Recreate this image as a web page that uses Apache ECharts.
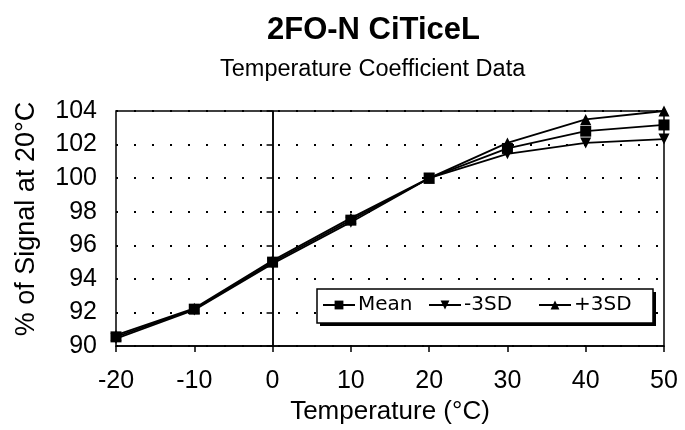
<!DOCTYPE html>
<html><head><meta charset="utf-8">
<script src="https://cdn.jsdelivr.net/npm/echarts@6/dist/echarts.min.js"></script>
<style>html,body{margin:0;padding:0;background:#fff}#c{width:685px;height:430px}</style>
</head><body><div id="c"></div>
<script>
const temps = [-20, -10, 0, 10, 20, 30, 40, 50];
const meanVals = [90.55, 92.2, 95.0, 97.5, 100, 101.77, 102.8, 103.17];
const minusVals = [90.45, 92.15, 94.9, 97.38, 100, 101.45, 102.1, 102.33];
const plusVals = [90.65, 92.25, 95.1, 97.62, 100, 102.1, 103.5, 104.0];
const seriesNames = ['Mean', '-3SD', '+3SD'];
const titleText = '2FO-N CiTiceL';
const subtitleText = 'Temperature Coefficient Data';
const xName = 'Temperature (°C)';
const yName = '% of Signal at 20°C';

const pairs = v => temps.map((t, i) => [t, v[i]]);
const font = '"Liberation Sans", Arial, sans-serif';
const legendFont = '"DejaVu Sans", sans-serif';
const chart = echarts.init(document.getElementById('c'));
const base = {
  type: 'line', symbolSize: 11, showSymbol: true,
  lineStyle: { color: '#000', width: 1.8 },
  itemStyle: { color: '#000' }, animation: false
};
const legendCommon = {
  itemWidth: 32, itemHeight: 11, padding: 0,
  textStyle: { fontFamily: legendFont, fontSize: 20, color: '#000', padding: [0, 0, 0, -2] },
  z: 10
};
chart.setOption({
  animation: false,
  title: [
    { text: titleText, left: 262, top: 10,
      textStyle: { fontFamily: font, fontSize: 31, fontWeight: 'bold', color: '#000' } },
    { text: subtitleText, left: 215, top: 53,
      textStyle: { fontFamily: font, fontSize: 23.5, fontWeight: 'normal', color: '#000' } }
  ],
  graphic: [
    { type: 'rect', z: 5, shape: { x: 320, y: 292, width: 336, height: 34 }, style: { fill: '#000' } },
    { type: 'rect', z: 6, shape: { x: 317, y: 289, width: 336, height: 34 }, style: { fill: '#fff', stroke: '#000', lineWidth: 1.5 } },
    { type: 'text', z: 6, x: 27, y: 219, rotation: Math.PI / 2,
      style: { text: yName, font: '27px "Liberation Sans", Arial, sans-serif', fill: '#000', align: 'center', verticalAlign: 'middle' } }
  ],
  legend: [
    Object.assign({}, legendCommon, { data: [seriesNames[0]], left: 322, top: 295 }),
    Object.assign({}, legendCommon, { data: [seriesNames[1]], left: 428, top: 295 }),
    Object.assign({}, legendCommon, { data: [seriesNames[2]], left: 538, top: 295 })
  ],
  grid: { left: 116, right: 21, top: 111, bottom: 79, show: true, borderColor: '#000', borderWidth: 1.5, backgroundColor: 'transparent' },
  xAxis: {
    type: 'value', min: -20, max: 50, interval: 10,
    name: xName, nameLocation: 'middle', nameGap: 52,
    nameTextStyle: { fontFamily: font, fontSize: 26, color: '#000' },
    axisLine: { lineStyle: { color: '#000', width: 1.5 } },
    axisTick: { show: true, length: 6, lineStyle: { color: '#000', width: 1.5 } },
    axisLabel: { fontFamily: font, fontSize: 25, color: '#000', margin: 23 },
    splitLine: { show: false }
  },
  yAxis: {
    type: 'value', min: 90, max: 104, interval: 2,
    axisLine: { show: true, lineStyle: { color: '#000', width: 1.5 } },
    axisTick: { show: true, length: 6, lineStyle: { color: '#000', width: 1.5 } },
    axisLabel: { fontFamily: font, fontSize: 25, color: '#000', margin: 19 },
    splitLine: { show: true, lineStyle: { color: '#000', width: 2, type: [2, 16] } }
  },
  series: [
    Object.assign({}, base, { name: seriesNames[0], symbol: 'rect', data: pairs(meanVals),
      markLine: { silent: true, symbol: 'none', label: { show: false },
        lineStyle: { color: '#000', width: 1.5, type: 'solid' }, data: [{ xAxis: 0 }] } }),
    Object.assign({}, base, { name: seriesNames[1], symbol: 'triangle', symbolRotate: 180, data: pairs(minusVals) }),
    Object.assign({}, base, { name: seriesNames[2], symbol: 'triangle', data: pairs(plusVals) })
  ]
});
</script></body></html>
